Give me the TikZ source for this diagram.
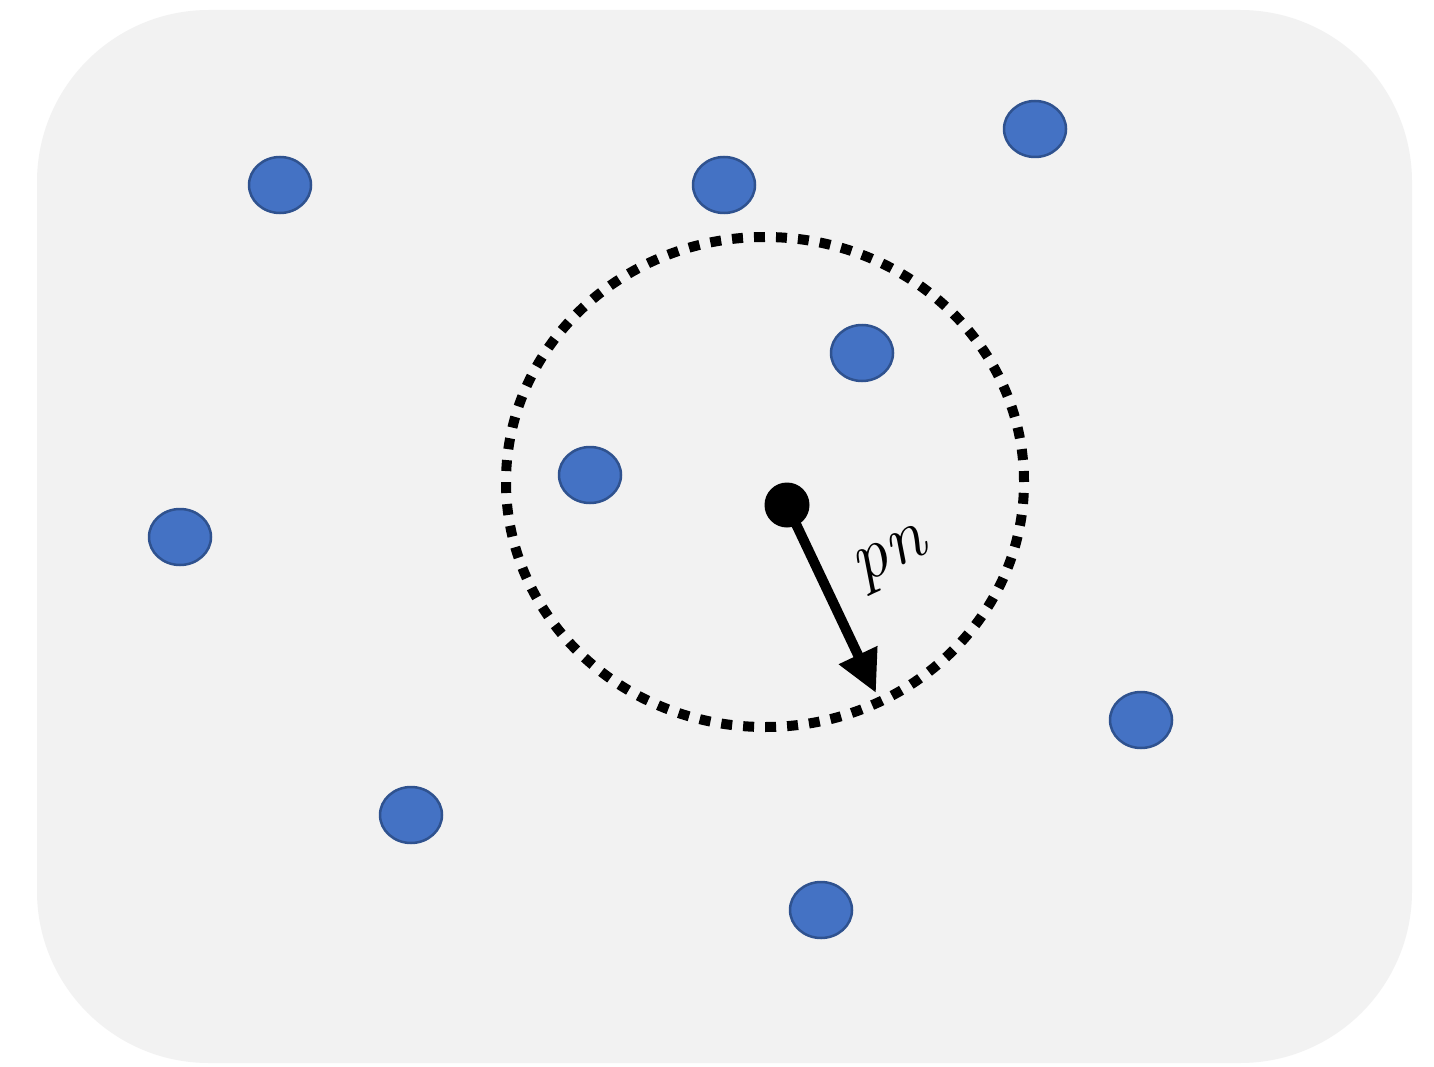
\documentclass[tikz,border=0pt]{standalone}
\usetikzlibrary{arrows.meta,shapes.geometric}
\definecolor{bgpanel}{HTML}{F2F2F2}
\definecolor{dotfill}{HTML}{4472C4}
\definecolor{dotedge}{HTML}{2F528F}
\tikzset{
  pt/.style={ellipse, draw=dotedge, line width=2.5pt, fill=dotfill, minimum width=62pt, minimum height=56pt, inner sep=0pt},
  ring/.style={line width=10pt, dash pattern=on 11pt off 11pt},
  radius arrow/.style={line width=10pt, -{Triangle[length=42pt,width=40pt]}},
}
\begin{document}
\begin{tikzpicture}[x=1pt,y=-1pt]
\useasboundingbox (0,0) rectangle (1434,1067);
\fill[white] (0,0) rectangle (1434,1067);
\fill[bgpanel, rounded corners=172pt] (37,10) rectangle (1412,1063);
\node[pt] (p1) at (280,185) {};
\node[pt] (p2) at (724,185) {};
\node[pt] (p3) at (1035,129) {};
\node[pt] (p4) at (862,353) {};
\node[pt] (p5) at (590,475) {};
\node[pt] (p6) at (180,537) {};
\node[pt] (p7) at (1141,720) {};
\node[pt] (p8) at (411,815) {};
\node[pt] (p9) at (821,910) {};
\draw[ring] (765,482) ellipse [x radius=259pt, y radius=245pt];
\node[circle, fill=black, minimum size=45pt, inner sep=0pt] (c) at (787,505) {};
\coordinate (tip) at (876,693);
\draw[radius arrow] (c.center) -- (tip);
\node[rotate=25, inner sep=0pt] (lbl) at (892,560) {\fontsize{72}{72}\selectfont\itshape pn};
\end{tikzpicture}
\end{document}
